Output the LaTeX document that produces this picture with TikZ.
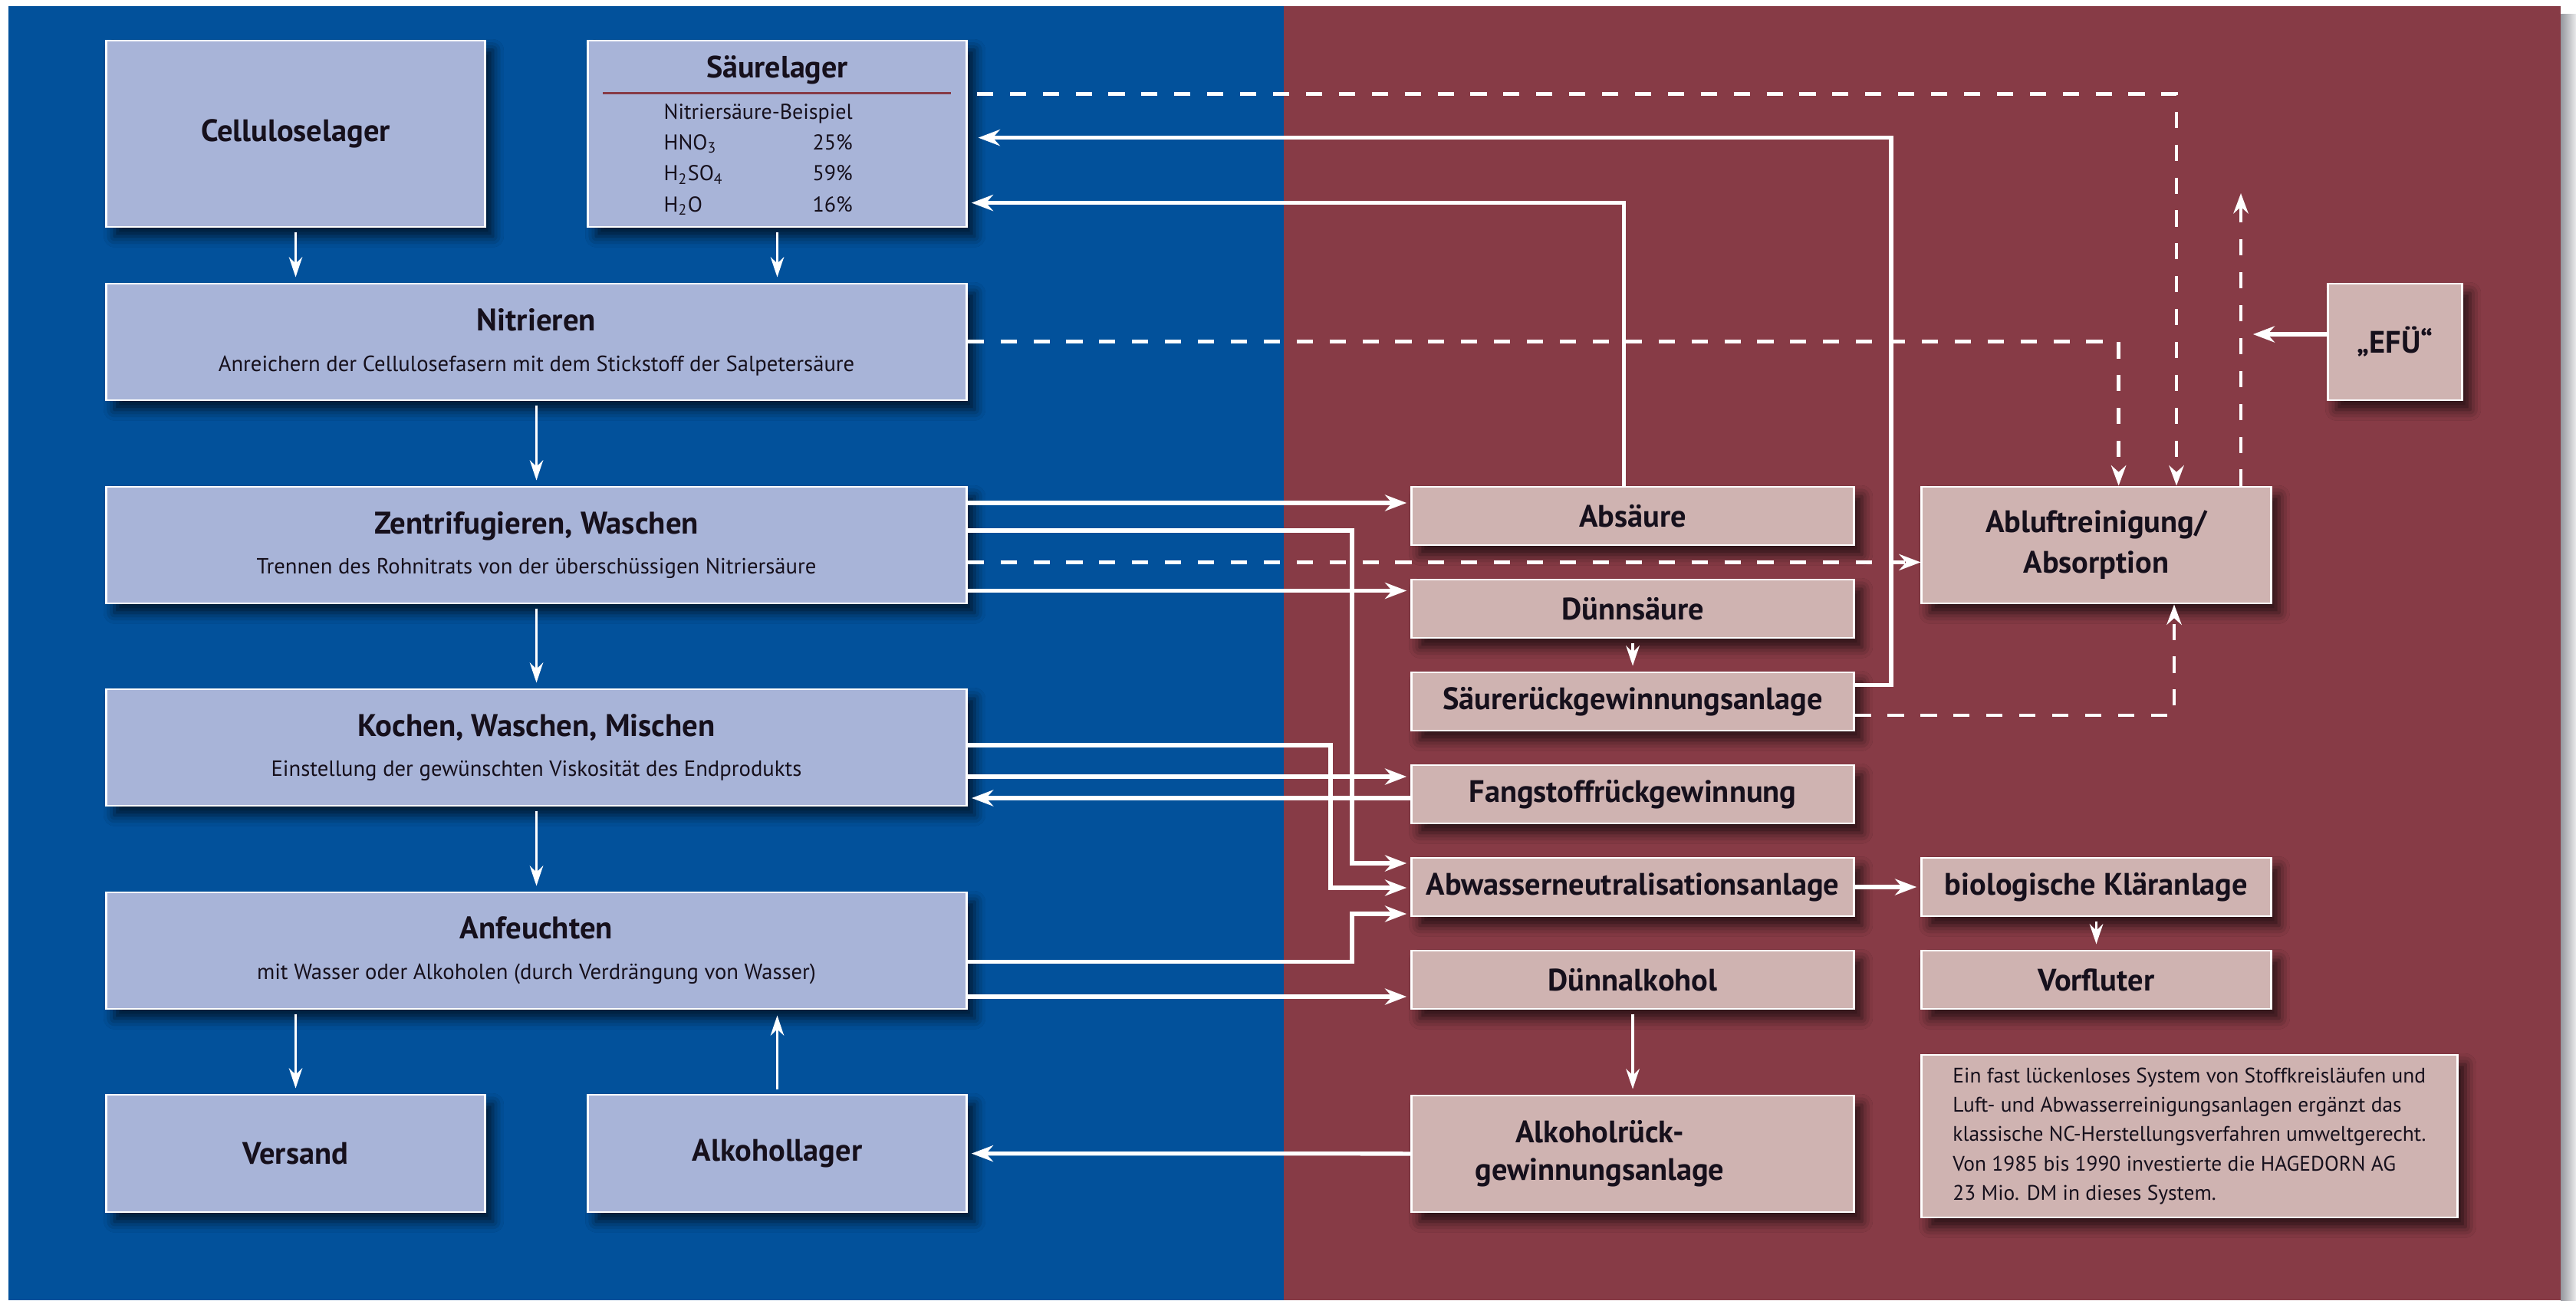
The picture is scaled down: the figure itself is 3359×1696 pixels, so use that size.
\documentclass[tikz,border=0pt]{standalone}
\usepackage{fontspec}
\setmainfont{PT Sans}
\usetikzlibrary{arrows.meta,shadows.blur}

\definecolor{bgblue}{RGB}{2,81,155}
\definecolor{bgred}{RGB}{135,59,70}
\definecolor{boxblue}{RGB}{168,180,216}
\definecolor{boxred}{RGB}{207,179,177}
\definecolor{edgegray}{RGB}{150,152,158}
\definecolor{ink}{RGB}{22,16,28}

\newcommand{\head}[1]{{\bfseries\fontsize{11.6}{15}\selectfont #1}}

\begin{document}
\begin{tikzpicture}[x=0.01cm, y=-0.01cm,
    proc/.style={rectangle, draw=white, line width=0.8pt, fill=boxblue,
                 text=ink, align=center, inner sep=0pt,
                 blur shadow={shadow xshift=3pt, shadow yshift=-3.5pt,
                              shadow blur radius=4pt, shadow opacity=70}},
    plant/.style={proc, fill=boxred},
    ttl/.style={font=\bfseries\fontsize{11.5}{15}\selectfont},
    duo/.style={font=\fontsize{8.15}{15}\selectfont},
    flow/.style={-{Stealth[length=8pt,width=6pt]}, white, line width=1.5pt, shorten >=1.5pt},
    feed/.style={-{Stealth[length=7.5pt,width=5pt]}, white, line width=1pt,
                 shorten <=1.5pt, shorten >=2pt},
    gas/.style={-{Stealth[length=7.5pt,width=5.5pt]}, white, line width=1.3pt,
                dash pattern=on 6pt off 6.2pt}]
    \useasboundingbox (0,0) rectangle (3359,1696);
    % two halves: production and environment
    \fill[white] (0,0) rectangle (3359,1696);
    \shade[left color=edgegray, right color=white!80!edgegray] (3339,18) rectangle (3359,1696);
    \fill[bgblue] (11,8) rectangle (1674,1696);
    \fill[bgred] (1674,8) rectangle (3339,1696);

    % production line
    \node[proc, ttl, minimum width=4.93cm, minimum height=2.43cm] (cell) at (385.5,174.5) {Celluloselager};
    \node[proc, minimum width=4.93cm, minimum height=2.43cm] (saeure) at (1013.5,174.5) {};
    \node[text=ink, anchor=base, font=\bfseries\fontsize{11.4}{15}\selectfont] (saeurehead) at (1013.5,101) {Säurelager};
    \draw[bgred, line width=0.9pt] (786,121.5) -- (1240,121.5);
    \node[font=\fontsize{7.96}{11.5}\selectfont, text=ink, anchor=base west, inner sep=0pt] (mix) at (865,155)
        {\begin{tabular}[t]{@{}lr@{}}
         \multicolumn{2}{@{}l@{}}{Nitriersäure-Beispiel}\\
         HNO\textsubscript{3} & 25\%\\
         H\textsubscript{2}SO\textsubscript{4} & 59\%\\
         H\textsubscript{2}O & 16\%
         \end{tabular}};
    \node[proc, duo, minimum width=11.21cm, minimum height=1.52cm] (nitr) at (699.5,446)
        {\head{Nitrieren}\\Anreichern der Cellulosefasern mit dem Stickstoff der Salpetersäure};
    \node[proc, duo, minimum width=11.21cm, minimum height=1.52cm] (zentr) at (699.5,711)
        {\head{Zentrifugieren, Waschen}\\Trennen des Rohnitrats von der überschüssigen Nitriersäure};
    \node[proc, duo, minimum width=11.21cm, minimum height=1.52cm] (kochen) at (699.5,975)
        {\head{Kochen, Waschen, Mischen}\\Einstellung der gewünschten Viskosität des Endprodukts};
    \node[proc, duo, minimum width=11.21cm, minimum height=1.52cm] (anf) at (699.5,1240)
        {\head{Anfeuchten}\\mit Wasser oder Alkoholen (durch Verdrängung von Wasser)};
    \node[proc, ttl, minimum width=4.93cm, minimum height=1.53cm] (versand) at (385.5,1504.5) {Versand};
    \node[proc, ttl, minimum width=4.93cm, minimum height=1.53cm] (alklager) at (1013.5,1504.5) {Alkohollager};

    % recovery and cleaning plants
    \node[plant, ttl, minimum width=5.76cm, minimum height=0.76cm] (absaeure) at (2129,673) {Absäure};
    \node[plant, ttl, minimum width=5.76cm, minimum height=0.76cm] (duennsaeure) at (2129,794) {Dünnsäure};
    \node[plant, ttl, minimum width=5.76cm, minimum height=0.76cm] (srga) at (2129,915) {Säurerückgewinnungsanlage};
    \node[plant, ttl, minimum width=5.76cm, minimum height=0.76cm] (fang) at (2129,1036) {Fangstoffrückgewinnung};
    \node[plant, ttl, minimum width=5.76cm, minimum height=0.76cm] (abwasser) at (2129,1157) {Abwasserneutralisationsanlage};
    \node[plant, ttl, minimum width=5.76cm, minimum height=0.76cm] (duennalk) at (2129,1278) {Dünnalkohol};
    \node[plant, minimum width=5.76cm, minimum height=1.52cm] (alkrga) at (2129,1505) {};
    \node[text=ink, align=center, font=\bfseries\fontsize{11.5}{14}\selectfont] (alkrgatext) at (2086,1505)
        {Alkoholrück-\\gewinnungsanlage};
    \node[plant, ttl, minimum width=4.55cm, minimum height=1.52cm] (abluft) at (2733.5,711) {Abluftreinigung/\\Absorption};
    \node[plant, ttl, minimum width=4.55cm, minimum height=0.76cm] (bio) at (2733.5,1157) {biologische Kläranlage};
    \node[plant, ttl, minimum width=4.55cm, minimum height=0.76cm] (vorfl) at (2733.5,1278) {Vorfluter};
    \node[plant, ttl, minimum width=1.745cm, minimum height=1.52cm] (efue) at (3123,446) {„EFÜ“};
    \node[plant, align=left, minimum width=6.98cm, minimum height=2.12cm,
          font=\fontsize{7.8}{10.9}\selectfont] (note) at (2855,1482)
        {Ein fast lückenloses System von Stoffkreisläufen und\\
         Luft- und Abwasserreinigungsanlagen ergänzt das\\
         klassische NC-Herstellungsverfahren umweltgerecht.\\
         Von 1985 bis 1990 investierte die HAGEDORN AG\\
         23 Mio. DM in dieses System.};
    \coordinate (vent) at (2922,252);

    % main sequence
    \draw[feed] (cell.south) -- (cell.south |- nitr.north);
    \draw[feed] (saeure.south) -- (saeure.south |- nitr.north);
    \draw[feed] (nitr) -- (zentr);
    \draw[feed] (zentr) -- (kochen);
    \draw[feed] (kochen) -- (anf);
    \draw[feed] (anf.south -| versand.north) -- (versand.north);
    \draw[feed] (alklager.north) -- (alklager.north |- anf.south);
    \draw[feed] (duennsaeure) -- (srga);
    \draw[feed] (duennalk) -- (alkrga);
    \draw[feed] (bio) -- (vorfl);

    % material streams
    \draw[flow] (zentr.east |- 0,656) -- (absaeure.west |- 0,656);
    \draw[flow] (zentr.east |- 0,692) -| (1763,1126) -- (abwasser.west |- 0,1126);
    \draw[flow] (zentr.east |- 0,770.5) -- (duennsaeure.west |- 0,770.5);
    \draw[flow] (kochen.east |- 0,972) -| (1735,1158) -- (abwasser.west |- 0,1158);
    \draw[flow] (kochen.east |- 0,1013) -- (fang.west |- 0,1013);
    \draw[flow] (fang.west |- 0,1041) -- (kochen.east |- 0,1041);
    \draw[flow] (anf.east |- 0,1254.5) -| (1763,1192) -- (abwasser.west |- 0,1192);
    \draw[flow] (anf.east |- 0,1300) -- (duennalk.west |- 0,1300);
    \draw[flow] (alkrga) -- (alklager);
    \draw[flow] (absaeure.north -| 2117.5,0) |- (saeure.east |- 0,264.6);
    \draw[flow, shorten >=4pt] (srga.east |- 0,893.7) -| (2466,179.6) -- (saeure.east |- 0,179.6);
    \draw[flow] (abwasser) -- (bio);
    \draw[flow, shorten >=4.5pt] (efue.west |- 0,436) -- (vent |- 0,436);

    % exhaust air
    \draw[gas, shorten <=3.5pt] (saeure.east |- 0,122.5) -| (abluft.north -| 2838,0);
    \draw[gas] (nitr.east |- 0,445.7) -| (abluft.north -| 2762.6,0);
    \draw[gas, -{Stealth[length=8pt,width=6pt]}] (zentr.east |- 0,733.4) -- (abluft.west |- 0,733.4);
    \draw[gas] (srga.east |- 0,933) -| (abluft.south -| 2835,0);
    \draw[gas] (abluft.north -| vent) -- (vent);
\end{tikzpicture}
\end{document}
